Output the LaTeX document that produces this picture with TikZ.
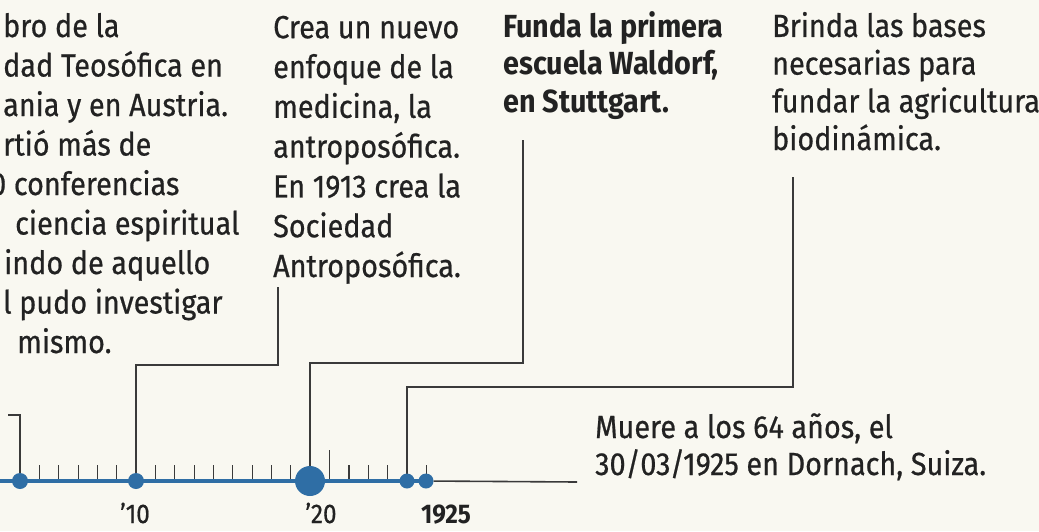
\documentclass[tikz,border=0pt]{standalone}
\usepackage{fontspec}
\setmainfont{Fira Sans}[FakeStretch=0.9,UprightFeatures={FakeBold=0.6}]
\definecolor{papel}{HTML}{F9F8F1}
\definecolor{tinta}{HTML}{222222}
\definecolor{linea}{HTML}{3A3A3A}
\definecolor{azul}{HTML}{2F6EA5}
\newcommand{\cuerpo}[1]{\fontsize{32}{#1}\selectfont}
\newcommand{\textoanio}{\fontsize{27}{30}\selectfont}

\begin{document}
\begin{tikzpicture}[x=1pt,y=-1pt,
    evento/.style={anchor=base west,align=left,inner sep=0pt,text=tinta,font=\cuerpo{#1}},
    anio/.style={anchor=base,inner sep=0pt,text=tinta,font=\textoanio},
    punto/.style={circle,fill=azul,inner sep=0pt,minimum size=#1},
    enlace/.style={draw=linea,line width=1.6pt},
    marca/.style={draw=linea,line width=1.1pt}]
    \path[use as bounding box,fill=papel] (0,0) rectangle (1039,531);
    % textos (anclados en la linea base de la ultima fila)
    \node[evento=39.5] (t04) at (3,353) {bro de la\\dad Teosófica en\\ania y en Austria.\\rtió más de\\\hspace*{-13pt}0 conferencias\\\hspace*{12pt}ciencia espiritual\\\hspace*{1pt}indo de aquello\\l pudo investigar\\\hspace*{14pt}mismo.};
    \node[evento=39.8] (t10) at (273,277) {Crea un nuevo\\enfoque de la\\medicina, la\\antroposófica.\\En 1913 crea la\\Sociedad\\Antroposófica.};
    \node[evento=37.5,font=\cuerpo{37.5}\bfseries] (t19) at (503,112) {Funda la primera\\escuela Waldorf,\\en Stuttgart.};
    \node[evento=37.7] (t24) at (772,150) {Brinda las bases\\necesarias para\\fundar la agricultura\\biodinámica.};
    \node[evento=37] (t25) at (595,475) {Muere a los 64 años, el\\30/03/1925 en Dornach, Suiza.};
    % linea de tiempo
    \foreach \a in {1905,...,1925}
        \draw[marca] ({20+(\a-1904)*19.35},465) -- ++(0,16);
    \draw[marca] ({20+16*19.35},450) -- ++(0,31);
    \draw[azul,line width=4pt] (0,481) -- (433,481);
    \node[punto=16pt] (d04) at (20,481) {};
    \node[punto=16pt] (d10) at (136,481) {};
    \node[punto=30pt] (d19) at (310,481) {};
    \node[punto=15pt] (d24) at (407,481) {};
    \node[punto=15pt] (d25) at (426,481) {};
    \coordinate (k04) at (8,415);
    \coordinate (k10) at (278,287);
    \coordinate (k19) at (523,140);
    \coordinate (k24) at (793,177);
    \coordinate (k25) at (577,482);
    \draw[enlace] (d04) |- (k04);
    \draw[enlace] (k10) -- (k10 |- 0,365) -| (d10);
    \draw[enlace] (k19) -- (k19 |- 0,363) -| (d19);
    \draw[enlace] (k24) -- (k24 |- 0,387) -| (d24);
    \draw[enlace] (d25) -- (k25);
    \node[anio] (a10) at (135,523) {’10};
    \node[anio] (a20) at (321,523) {’20};
    \node[anio,font=\textoanio\bfseries] (a25) at (446,523) {1925};
\end{tikzpicture}
\end{document}
